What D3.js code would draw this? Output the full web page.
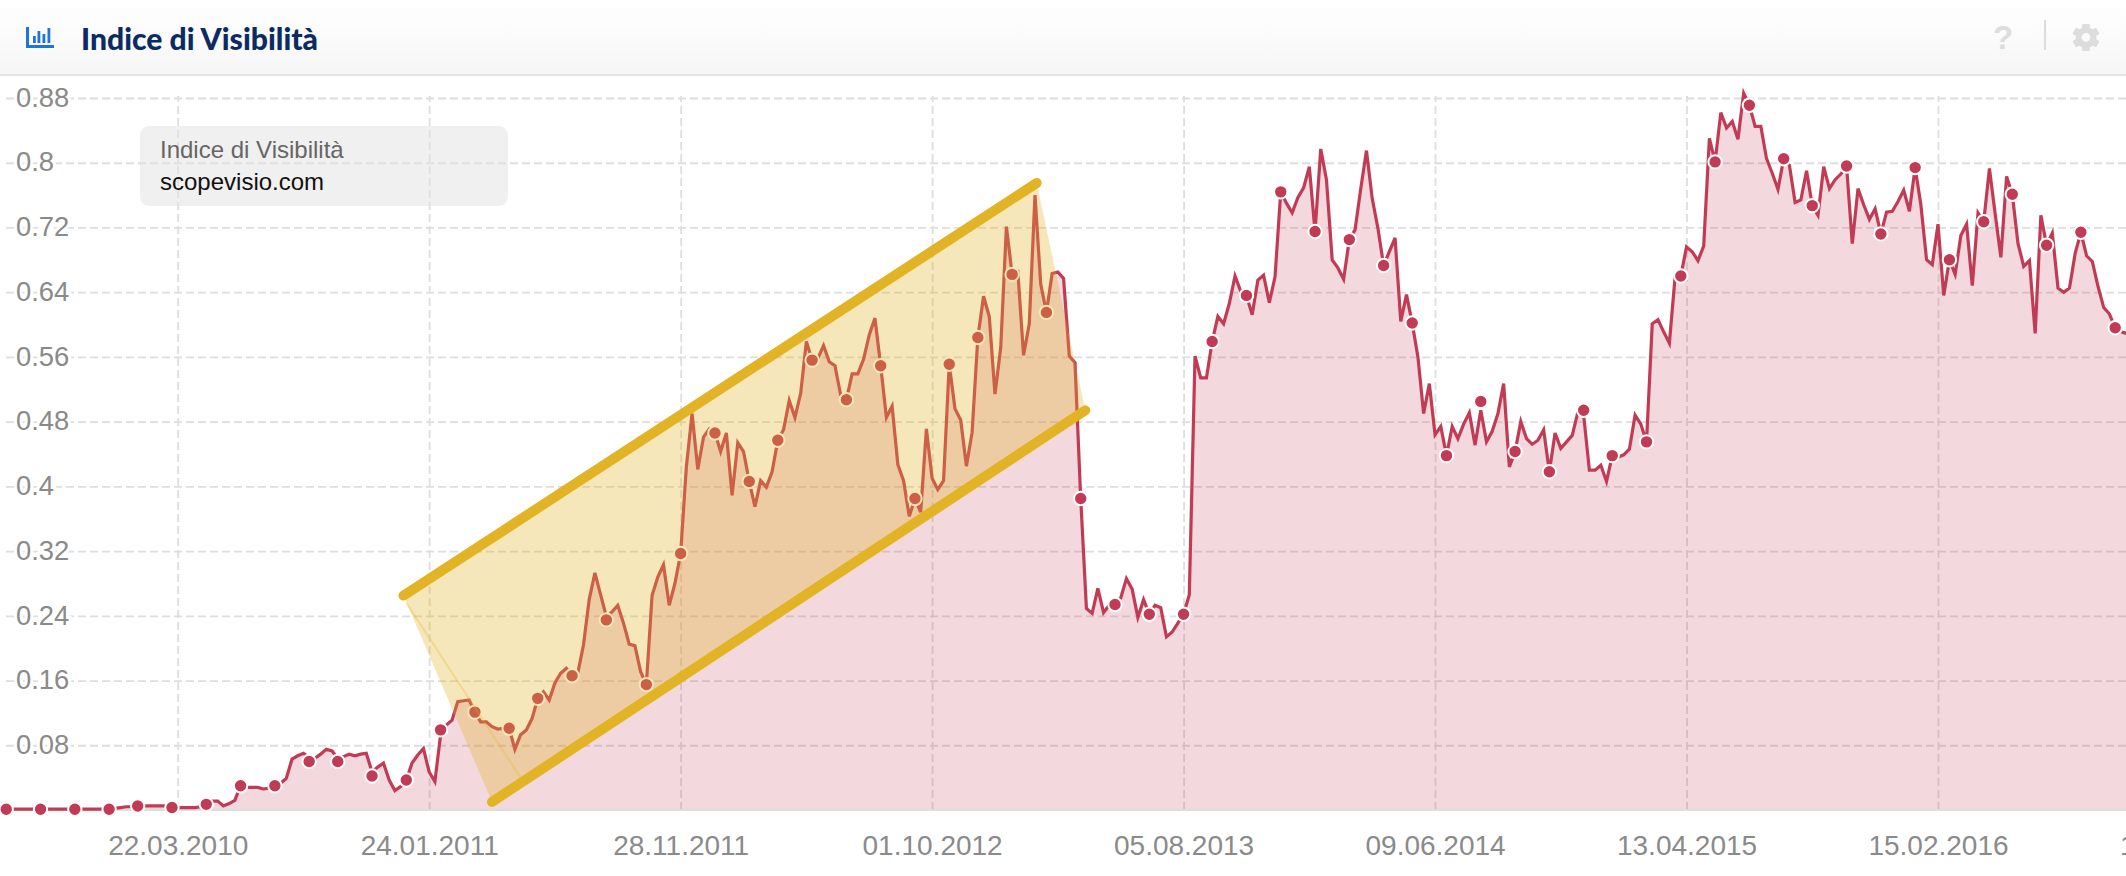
<!DOCTYPE html>
<html>
<head>
<meta charset="utf-8">
<script src="https://cdn.jsdelivr.net/npm/d3@7"></script>
<style>
html,body{margin:0;padding:0;background:#fff;overflow:hidden}
svg{display:block}
</style>
</head>
<body>
<svg id="c" width="2126" height="876"></svg>
<script>
// ---- data ----
const titleText = "Indice di Visibilità";
const legendTitle = "Indice di Visibilità";
const legendDomain = "scopevisio.com";
const seriesStart = "24.08.2009";   // weekly series
const xTickLabels = ["22.03.2010","24.01.2011","28.11.2011","01.10.2012","05.08.2013","09.06.2014","13.04.2015","15.02.2016","19.12.2016"];
const yTickValues = [0.88,0.8,0.72,0.64,0.56,0.48,0.4,0.32,0.24,0.16,0.08];
const weeklyValues = [
.001,.001,.001,.001,.001,.001,.001,.001,.001,.001,
.001,.001,.001,.001,.001,.001,.001,.001,.001,.002,
.003,.004,.004,.005,.005,.005,.005,.005,.005,.003,
.003,.003,.003,.003,.004,.007,.011,.011,.005,.008,
.012,.030,.028,.028,.028,.026,.027,.030,.033,.039,
.063,.067,.070,.065,.064,.069,.075,.073,.064,.066,
.069,.067,.069,.070,.047,.053,.058,.037,.024,.029,
.037,.058,.068,.076,.047,.035,.093,.105,.111,.134,
.135,.136,.121,.109,.109,.103,.100,.101,.101,.075,
.093,.099,.113,.138,.146,.136,.157,.169,.175,.166,
.169,.204,.260,.293,.266,.239,.245,.253,.231,.205,
.203,.171,.155,.265,.288,.303,.253,.280,.317,.424,
.490,.421,.461,.471,.466,.443,.466,.389,.454,.443,
.406,.375,.407,.399,.418,.457,.470,.506,.485,.515,
.579,.556,.558,.574,.554,.549,.513,.507,.539,.539,
.557,.587,.608,.549,.485,.499,.427,.407,.363,.385,
.368,.471,.410,.396,.407,.551,.496,.482,.425,.467,
.584,.635,.610,.514,.571,.721,.662,.665,.562,.601,
.760,.650,.615,.663,.665,.657,.561,.553,.385,.249,
.243,.274,.244,.253,.254,.262,.286,.273,.238,.260,
.242,.253,.250,.214,.220,.231,.242,.266,.561,.534,
.534,.579,.610,.601,.626,.660,.641,.636,.612,.655,
.661,.627,.659,.764,.750,.738,.757,.769,.795,.715,
.817,.779,.680,.670,.656,.705,.717,.768,.815,.756,
.719,.673,.690,.707,.604,.637,.602,.560,.490,.527,
.464,.474,.438,.474,.459,.477,.491,.451,.494,.455,
.468,.490,.527,.424,.443,.480,.459,.452,.457,.470,
.418,.466,.447,.455,.463,.492,.488,.420,.420,.426,
.406,.438,.436,.439,.446,.488,.477,.455,.601,.606,
.591,.577,.659,.660,.696,.690,.679,.697,.830,.801,
.862,.843,.851,.829,.886,.871,.845,.845,.805,.787,
.767,.805,.797,.751,.754,.790,.747,.735,.795,.768,
.779,.786,.796,.700,.768,.748,.730,.743,.712,.739,
.740,.752,.766,.740,.794,.748,.680,.674,.724,.636,
.680,.662,.710,.724,.648,.738,.727,.793,.737,.683,
.783,.761,.700,.672,.679,.589,.735,.698,.713,.645,
.640,.645,.688,.714,.685,.678,.647,.621,.613,.596,
.591,.589];
const dotWeeks = [0,6,12,18,23,29,35,41,47,53,58,64,70,76,82,88,93,99,105,112,118,124,130,135,141,147,153,159,165,170,176,182,188,194,200,206,211,217,223,229,235,241,246,252,258,264,270,276,281,287,293,299,305,311,316,322,328,334,340,346,351,357,363,369];
const dotValues = [.001,.001,.001,.001,.005,.003,.007,.030,.030,.060,.060,.042,.037,.099,.121,.101,.138,.166,.235,.155,.317,.466,.406,.457,.556,.507,.549,.385,.551,.584,.662,.615,.385,.254,.242,.242,.579,.636,.764,.715,.705,.673,.602,.438,.505,.443,.418,.494,.438,.455,.660,.801,.871,.805,.747,.796,.712,.794,.680,.727,.761,.698,.714,.596];
// trend channel, as weeks from series start and index values
const channelWeeks = [69.5,180.3,188.8,85.0];
const channelValues = [.265,.775,.494,.010];
const creaseWeeks = [70,90];
const creaseValues = [.256,.040];

// ---- colours ----
const lineColor = "#c23b55", gold = "#e2b325", gridColor = "#dedede", labelColor = "#8a8a8a";

// ---- scales ----
const fmt = d3.utcFormat("%d.%m.%Y"), parse = d3.utcParse("%d.%m.%Y");
const t0 = parse(seriesStart);
const weekDate = w => new Date(+t0 + w*7*864e5);
const xTickDates = xTickLabels.map(parse);
const x = d3.scaleUtc().domain([xTickDates[0], xTickDates[7]]).range([177.7,1938]);
const y = d3.scaleLinear().domain([0,0.88]).range([810,98]);

const svg = d3.select("#c");
const defs = svg.append("defs");
const g = defs.append("linearGradient").attr("id","hdr").attr("x1",0).attr("x2",0).attr("y1",0).attr("y2",1);
g.append("stop").attr("offset",0).attr("stop-color","#ffffff");
g.append("stop").attr("offset",1).attr("stop-color","#f6f6f6");

// grid
const gx = svg.append("g").attr("transform","translate(0,810)")
  .call(d3.axisBottom(x).tickValues(xTickDates).tickFormat(fmt).tickSize(-714).tickPadding(25));
gx.select(".domain").remove();
gx.selectAll("line").attr("stroke",gridColor).attr("stroke-width",1.8).attr("stroke-dasharray","8 4");
gx.selectAll("text").attr("font-family","'Liberation Sans',Arial,sans-serif").attr("font-size",28).attr("fill",labelColor);

const gy = svg.append("g").attr("transform","translate(0,0)")
  .call(d3.axisLeft(y).tickValues(yTickValues).tickFormat(d3.format("~g")).tickSize(0));
gy.select(".domain").remove();
gy.selectAll("line").attr("x1",6).attr("x2",2126).attr("stroke",gridColor).attr("stroke-width",1.8).attr("stroke-dasharray","8 4");
gy.selectAll("text").attr("text-anchor","start").attr("x",16).attr("dy","0.3em")
  .attr("font-family","'Liberation Sans',Arial,sans-serif").attr("font-size",27.4).attr("fill",labelColor)
  .attr("stroke","#fff").attr("stroke-width",6).attr("paint-order","stroke");

// area + line
const weekly = weeklyValues.map((v,i)=>({d:weekDate(i),v}));
svg.append("path").datum(weekly).attr("fill",lineColor).attr("fill-opacity",.2)
  .attr("d",d3.area().x(d=>x(d.d)).y0(y(0)).y1(d=>y(d.v)));
svg.append("line").attr("x1",0).attr("x2",2126).attr("y1",y(0)).attr("y2",y(0)).attr("stroke","#dcdcdc").attr("stroke-width",2).attr("stroke-opacity",.9);
svg.append("path").datum(weekly).attr("fill","none").attr("stroke",lineColor).attr("stroke-width",3.2).attr("stroke-linejoin","miter")
  .attr("d",d3.line().x(d=>x(d.d)).y(d=>y(d.v)));
svg.append("g").selectAll("circle").data(dotWeeks).join("circle")
  .attr("cx",w=>x(weekDate(w))).attr("cy",(w,i)=>y(dotValues[i])).attr("r",6.7)
  .attr("fill",lineColor).attr("stroke","#fff").attr("stroke-width",2);

// legend
const lg = svg.append("g");
lg.append("rect").attr("x",140).attr("y",126).attr("width",368).attr("height",80).attr("rx",9).attr("fill","#e2e2e2").attr("fill-opacity",.5);
lg.append("text").attr("x",160).attr("y",158).attr("font-family","'Liberation Sans',Arial,sans-serif").attr("font-size",24).attr("fill","#666").text(legendTitle);
lg.append("text").attr("x",160).attr("y",190).attr("font-family","'Liberation Sans',Arial,sans-serif").attr("font-size",24).attr("fill","#111").text(legendDomain);

// channel overlay
const chPts = channelWeeks.map((w,i)=>[x(weekDate(w)),y(channelValues[i])]);
svg.append("path").attr("d",d3.line()(chPts)+"Z").attr("fill",gold).attr("fill-opacity",.31);
svg.append("path").attr("d",d3.line()(creaseWeeks.map((w,i)=>[x(weekDate(w)),y(creaseValues[i])])))
  .attr("stroke",gold).attr("stroke-opacity",.28).attr("stroke-width",2).attr("fill","none");
[[0,1],[3,2]].forEach(([a,b])=>{
  svg.append("line").attr("x1",chPts[a][0]).attr("y1",chPts[a][1]).attr("x2",chPts[b][0]).attr("y2",chPts[b][1])
    .attr("stroke",gold).attr("stroke-width",10).attr("stroke-linecap","round");
});

// header
const h = svg.append("g");
h.append("path").attr("d","M0,74V8Q0,0 8,0H2118Q2126,0 2126,8V74Z").attr("fill","url(#hdr)");
h.append("rect").attr("x",0).attr("y",74).attr("width",2126).attr("height",2).attr("fill","#e4e4e4");
h.append("text").attr("x",81).attr("y",50).attr("font-family","Lato,'Noto Sans',sans-serif").attr("font-weight",900)
  .attr("font-size",29.5).attr("fill","#0b2c63").attr("textLength",237).attr("lengthAdjust","spacingAndGlyphs").text(titleText);
// icon
const ic = h.append("g").attr("fill","#1f74dc");
ic.append("rect").attr("x",26).attr("y",27).attr("width",3).attr("height",21);
ic.append("rect").attr("x",26).attr("y",45).attr("width",28).attr("height",3);
[[33,36,7],[37.5,31,12],[42.5,34,9],[47.5,28,15]].forEach(b=>ic.append("rect").attr("x",b[0]).attr("y",b[1]).attr("width",2.8).attr("height",b[2]));
// help + divider + gear
h.append("text").attr("x",2003).attr("y",49).attr("text-anchor","middle").attr("font-family","'Liberation Sans',Arial,sans-serif").attr("font-weight",700).attr("font-size",33).attr("fill","#dddddd").text("?");
h.append("rect").attr("x",2044).attr("y",20).attr("width",2).attr("height",30).attr("fill","#dcdcdc");
const gear = h.append("g").attr("transform","translate(2086,37.5)").attr("fill","#dddddd");
d3.range(6).forEach(i=>gear.append("rect").attr("x",-3.6).attr("y",-13.5).attr("width",7.2).attr("height",27).attr("rx",1).attr("transform",`rotate(${i*60})`));
gear.append("circle").attr("r",10.5);
gear.append("circle").attr("r",4.4).attr("fill","#fafafa");
</script>
</body>
</html>
